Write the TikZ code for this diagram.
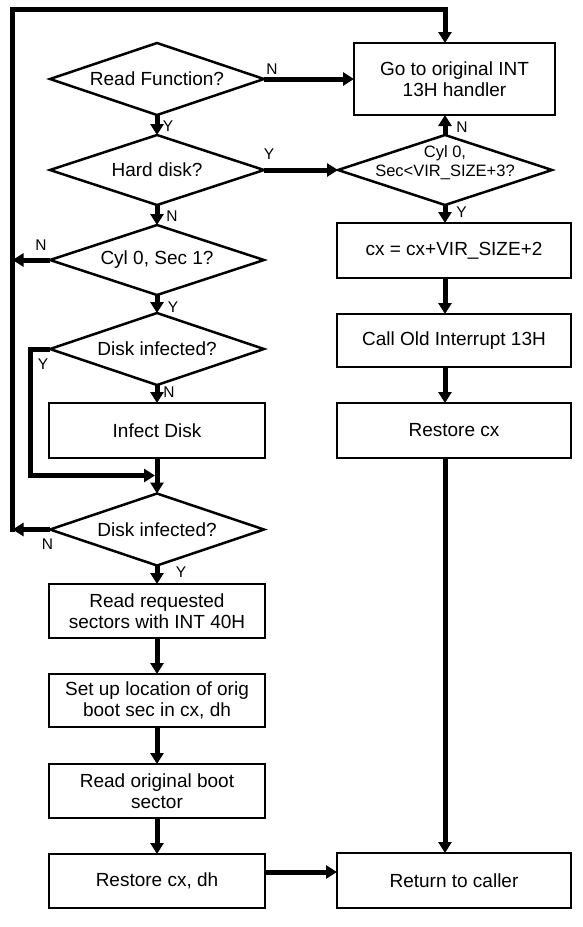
\documentclass[tikz,border=0pt]{standalone}
\usepackage{fontspec}
\setmainfont{Liberation Sans}
\usetikzlibrary{shapes.geometric,arrows.meta}
\begin{document}
\begin{tikzpicture}[x=1pt,y=-1pt,
  box/.style={draw,line width=2.5pt,rectangle,minimum width=216pt,minimum height=54pt,inner sep=0pt,outer sep=0pt,align=center,font=\fontsize{19}{20.5}\selectfont},
  rbox/.style={box,minimum width=234pt},
  dia/.style={draw,line width=2.5pt,diamond,aspect=3,minimum width=214pt,minimum height=71pt,inner sep=0pt,outer sep=0pt,align=center,font=\fontsize{19}{20.5}\selectfont},
  conn/.style={line width=5pt},
  arr/.style={line width=5pt,-{Triangle[width=13pt,length=11pt]}},
  lab/.style={font=\fontsize{15.5}{15.5}\selectfont,inner sep=0pt}
]
\useasboundingbox (0,0) rectangle (582,927);
\fill[white] (0,0) rectangle (582,927);

% left column
\node[dia,minimum height=72pt] (rf) at (157,79) {Read Function?};
\node[dia,minimum height=70pt] (hd) at (157,170) {Hard disk?};
\node[dia,minimum height=70pt] (cyl) at (157,260) {Cyl 0, Sec 1?};
\node[dia,minimum height=72pt] (dis1) at (157,349) {Disk infected?};
\node[box,minimum height=55pt] (inf) at (157,430.5) {Infect Disk};
\node[dia,minimum height=72pt] (dis2) at (157,529.5) {Disk infected?};
\node[box] (rr) at (157,611) {Read requested\\sectors with INT 40H};
\node[box,minimum height=53pt] (su) at (157,700.5) {Set up location of orig\\boot sec in cx, dh};
\node[box] (ro) at (157,791) {Read original boot\\sector};
\node[box] (rdh) at (157,881) {Restore cx, dh};

% right column
\node[box,minimum width=201pt,minimum height=72pt] (go) at (454.5,79) {Go to original INT\\13H handler};
\node[dia,minimum height=70pt] (rd) at (445,170) {};
\node[font=\fontsize{16.5}{19}\selectfont,align=center,inner sep=0pt] (rdt) at (445,163) {Cyl 0,\\Sec<VIR\_SIZE+3?};
\node[rbox,minimum height=55pt] (cx) at (454,250.5) {cx = cx+VIR\_SIZE+2};
\node[rbox,minimum height=53pt] (call) at (454,340.5) {Call Old Interrupt 13H};
\node[rbox,minimum height=55pt] (rcx) at (454,430.5) {Restore cx};
\node[rbox,minimum height=55pt] (ret) at (454,880.5) {Return to caller};

% loop coordinates
\coordinate (LL) at (12.5,532);
\coordinate (TL) at (12.5,9);
\coordinate (TR) at (445,9);
\coordinate (YL) at (30.5,475.5);
\coordinate (J) at (155,475.5);

% left column arrows
\draw[arr] (rf.south) -- (hd.north);
\draw[arr] (hd.south) -- (cyl.north);
\draw[arr] (cyl.south) -- (dis1.north);
\draw[arr] (dis1.south) -- (inf.north);
\draw[arr] (inf.south) -- (dis2.north);
\draw[arr] (dis2.south) -- (rr.north);
\draw[arr] (rr.south) -- (su.north);
\draw[arr] (su.south) -- (ro.north);
\draw[arr] (ro.south) -- (rdh.north);

% Y branch of first Disk infected?
\draw[arr] (dis1.west) -| (YL) -- (J);

% main loop
\draw[conn] (LL) -- (TL) -- (TR);
\draw[arr] ([yshift=2.5pt]TR) -- (TR |- go.north);
\draw[arr] (cyl.west) -- (cyl.west -| LL);
\draw[arr] (dis2.west) -- (dis2.west -| LL);

% cross arrows
\draw[arr] (rf.east) -- (go.west);
\draw[arr] (hd.east) -- (rd.west);
\draw[arr] (rdh.east |- 0,872) -- (ret.west |- 0,872);

% right column arrows
\draw[arr] (rd.north) -- (rd.north |- go.south);
\draw[arr] (rd.south) -- (rd.south |- cx.north);
\draw[arr] (rd.south |- cx.south) -- (rd.south |- call.north);
\draw[arr] (rd.south |- call.south) -- (rd.south |- rcx.north);
\draw[arr] (rd.south |- rcx.south) -- (rd.south |- ret.north);

% labels
\node[lab] (l1) at (272,69.5) {N};
\node[lab] (l2) at (168,126.5) {Y};
\node[lab] (l3) at (269,154.5) {Y};
\node[lab] (l4) at (172,216) {N};
\node[lab] (l5) at (41,245) {N};
\node[lab] (l6) at (173,307.5) {Y};
\node[lab] (l7) at (43,364) {Y};
\node[lab] (l8) at (169,392.5) {N};
\node[lab] (l9) at (47.5,544) {N};
\node[lab] (l10) at (181,572) {Y};
\node[lab] (l11) at (462,127) {N};
\node[lab] (l12) at (461.5,212) {Y};
\end{tikzpicture}
\end{document}
